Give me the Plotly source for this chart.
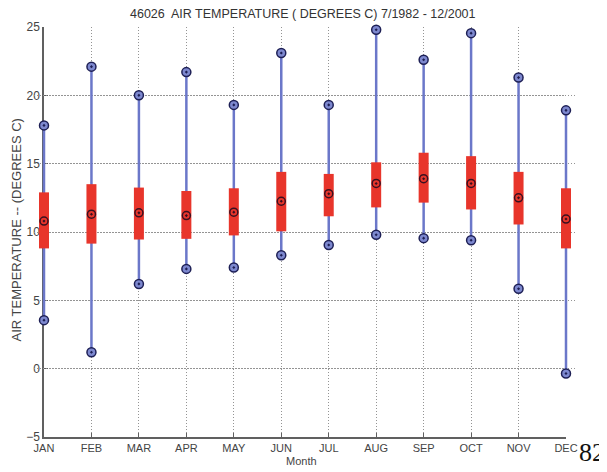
import plotly.graph_objects as go

months = ["JAN", "FEB", "MAR", "APR", "MAY", "JUN", "JUL", "AUG", "SEP", "OCT", "NOV", "DEC"]
t_min = [3.55, 1.2, 6.2, 7.3, 7.4, 8.3, 9.05, 9.8, 9.55, 9.4, 5.85, -0.35]
t_max = [17.8, 22.1, 20.0, 21.7, 19.3, 23.1, 19.3, 24.8, 22.6, 24.55, 21.3, 18.9]
q_low = [8.8, 9.15, 9.45, 9.5, 9.75, 10.05, 11.15, 11.8, 12.15, 11.65, 10.55, 8.8]
q_high = [12.9, 13.5, 13.25, 13.0, 13.2, 14.4, 14.25, 15.1, 15.8, 15.55, 14.4, 13.2]
median = [10.8, 11.3, 11.4, 11.2, 11.45, 12.25, 12.8, 13.55, 13.9, 13.55, 12.5, 10.95]
y_ticks = [-5, 0, 5, 10, 15, 20, 25]

xs = list(range(len(months)))

def segments(lo, hi):
    sx, sy = [], []
    for i, (a, b) in enumerate(zip(lo, hi)):
        sx += [i, i, None]
        sy += [a, b, None]
    return sx, sy

wx, wy = segments(t_min, t_max)
bx, by = segments(q_low, q_high)

# layout geometry (figure pixels; the page adds an 8px body margin)
OFF = 8
W, H = 607 - OFF, 472 - OFF
PAD = 10                      # extra room so edge marks are not clipped
ML, MR, MT, MB = 44 - OFF - PAD, W - (566 - OFF) - PAD, 27 - OFF, H - (437 - OFF)
PW = W - ML - MR
PH = H - MT - MB
x_lo, x_hi = 0, len(months) - 1
px_per_unit = (PW - 2 * PAD) / (x_hi - x_lo)
ext = PAD / px_per_unit

def paper_x(page_px):
    return (page_px - OFF - ML) / PW

def paper_y(page_px):
    return (H - MB - (page_px - OFF)) / PH

fig = go.Figure()
fig.add_trace(go.Scatter(x=wx, y=wy, mode="lines", xaxis="x2", yaxis="y",
                         line=dict(color="#6b77c9", width=2.5),
                         hoverinfo="skip", showlegend=False))
fig.add_trace(go.Scatter(x=bx, y=by, mode="lines", xaxis="x2", yaxis="y",
                         line=dict(color="#e8352b", width=10),
                         hoverinfo="skip", showlegend=False))
fig.add_trace(go.Scatter(x=xs + xs, y=t_min + t_max, mode="markers", xaxis="x2", yaxis="y",
                         marker=dict(symbol="circle-dot", size=9, color="#7d88cf",
                                     line=dict(color="#1d1f55", width=1.5)),
                         showlegend=False, cliponaxis=False))
fig.add_trace(go.Scatter(x=xs, y=median, mode="markers", xaxis="x2", yaxis="y",
                         marker=dict(symbol="circle-open-dot", size=8, color="#3a1020",
                                     line=dict(color="#3a1020", width=1.5)),
                         showlegend=False, cliponaxis=False))
# invisible trace to make the main subplot exist
fig.add_trace(go.Scatter(x=[x_lo, x_hi], y=[None, None], mode="markers",
                         xaxis="x", yaxis="y", showlegend=False, hoverinfo="skip"))

font_family = "Liberation Sans, Arial, sans-serif"
grid_dash = "1px,2px"
fig.update_layout(
    width=W, height=H,
    margin=dict(l=ML, r=MR, t=MT, b=MB),
    paper_bgcolor="white", plot_bgcolor="rgba(0,0,0,0)",
    font=dict(family=font_family, size=12, color="#3a3a3a"),
    annotations=[
        dict(text="46026  AIR TEMPERATURE ( DEGREES C) 7/1982 - 12/2001",
             xref="paper", yref="paper", x=paper_x(303), y=paper_y(14.5),
             xanchor="center", yanchor="middle", showarrow=False,
             font=dict(size=12.5, color="#333333")),
        dict(text="AIR TEMPERATURE -- (DEGREES C)", xref="paper", yref="paper",
             x=paper_x(15.5), y=paper_y(230),
             xanchor="center", yanchor="middle", textangle=-90, showarrow=False,
             font=dict(size=13, color="#444444")),
        dict(text="Month", xref="paper", yref="paper",
             x=paper_x(301), y=paper_y(461),
             xanchor="center", yanchor="middle", showarrow=False,
             font=dict(size=11, color="#444444")),
        dict(text="82", xref="paper", yref="paper",
             x=paper_x(592), y=paper_y(452),
             xanchor="center", yanchor="middle", showarrow=False, borderpad=0,
             font=dict(family="Liberation Serif, Times New Roman, serif",
                       size=26, color="#111111")),
    ],
    xaxis=dict(domain=[PAD / PW, 1 - PAD / PW], range=[x_lo, x_hi],
               tickmode="array", tickvals=xs, ticktext=months,
               showgrid=True, gridcolor="#949494", griddash=grid_dash, gridwidth=1,
               showline=True, linecolor="#606060", linewidth=1.5,
               ticks="inside", ticklen=4, tickcolor="#606060",
               zeroline=False, automargin=False,
               tickfont=dict(size=11, color="#444444")),
    xaxis2=dict(domain=[0, 1], range=[x_lo - ext, x_hi + ext], anchor="y",
                visible=False, automargin=False),
    yaxis=dict(range=[-5, 25], tickmode="array", tickvals=y_ticks,
               showgrid=True, gridcolor="#949494", griddash=grid_dash, gridwidth=1,
               showline=True, linecolor="#606060", linewidth=1.5,
               ticks="inside", ticklen=4, tickcolor="#606060",
               zeroline=False, automargin=False,
               tickfont=dict(size=12, color="#444444")),
)

fig.write_html("out.html")
